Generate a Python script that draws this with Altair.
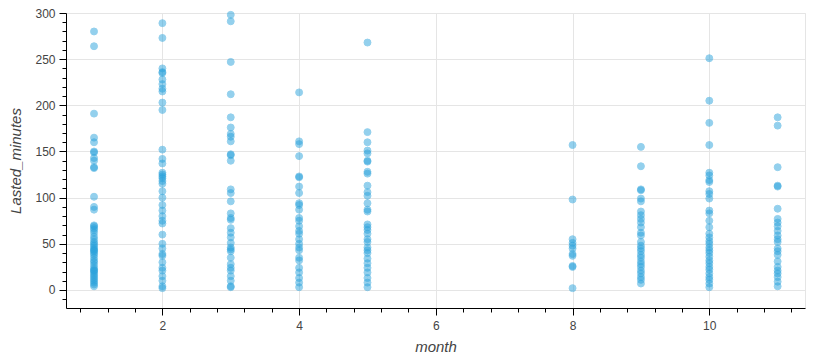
import altair as alt
import pandas as pd

# Lasted_minutes values read per month
m1 = [280, 264, 191, 165, 160, 150, 149, 143, 140, 133, 132, 101, 90, 87,
      70, 69, 67, 65, 62, 58, 55, 52, 50, 48, 46, 44, 43, 42, 40, 38, 35, 32,
      30, 27, 24, 22, 21, 20, 18, 16, 14, 12, 10, 8, 6, 4]
m2 = [289, 273, 240, 236, 235, 228, 223, 218, 215, 203, 195, 152, 142, 137,
      127, 125, 123, 121, 118, 115, 107, 100, 92, 86, 80, 75, 72, 60, 50, 45,
      39, 37, 30, 24, 21, 15, 10, 4, 2]
m3 = [298, 291, 247, 212, 187, 176, 169, 166, 161, 147, 146, 140, 109, 105,
      96, 83, 78, 76, 67, 62, 57, 51, 46, 44, 42, 35, 28, 24, 21, 15, 10, 4, 3]
m4 = [214, 161, 158, 145, 123, 122, 112, 105, 94, 92, 87, 78, 75, 69, 64,
      61, 55, 50, 46, 43, 35, 32, 24, 19, 13, 8, 3]
m5 = [268, 171, 160, 151, 148, 140, 139, 128, 126, 113, 106, 102, 94, 87,
      85, 71, 68, 65, 61, 55, 52, 46, 43, 40, 34, 29, 24, 19, 13, 8, 3]
m8 = [157, 98, 55, 51, 48, 45, 39, 37, 26, 25, 2]
m9 = [155, 134, 109, 108, 99, 96, 85, 81, 77, 73, 68, 62, 59, 52, 48, 45,
      42, 38, 35, 31, 28, 25, 21, 18, 14, 11, 7]
m10 = [251, 205, 181, 157, 127, 124, 119, 117, 107, 104, 99, 86, 83, 75, 68,
       61, 57, 53, 50, 46, 43, 40, 36, 32, 29, 25, 22, 18, 14, 11, 7, 3]
m11 = [187, 178, 133, 113, 112, 88, 77, 73, 69, 64, 59, 55, 52, 45, 42, 38,
       31, 25, 21, 18, 14, 9, 4]

months = [1, 2, 3, 4, 5, 8, 9, 10, 11]
values = [m1, m2, m3, m4, m5, m8, m9, m10, m11]

rows = []
for mo, vals in zip(months, values):
    for v in vals:
        rows.append({"month": mo, "Lasted_minutes": v})
df = pd.DataFrame(rows)

x_ticks = [round(0.8 + 0.4 * k, 1) for k in range(27)]
y_ticks = list(range(-10, 301, 10))

font = "Liberation Sans"

x_axis = alt.Axis(
    values=x_ticks,
    labelExpr="abs(datum.value/2 - round(datum.value/2)) < 0.001 ? format(datum.value, 'd') : ''",
    tickSize={"condition": {"test": "abs(datum.value/2 - round(datum.value/2)) < 0.001", "value": 7}, "value": 4},
    gridOpacity={"condition": {"test": "abs(datum.value/2 - round(datum.value/2)) < 0.001", "value": 1}, "value": 0},
    labelOverlap=False,
    labelPadding=5,
    titlePadding=8,
    title="month",
)
y_axis = alt.Axis(
    values=y_ticks,
    labelExpr="datum.value % 50 === 0 ? format(datum.value, 'd') : ''",
    tickSize={"condition": {"test": "datum.value % 50 === 0", "value": 7}, "value": 4},
    gridOpacity={"condition": {"test": "datum.value % 50 === 0", "value": 1}, "value": 0},
    labelOverlap=False,
    labelPadding=4,
    titlePadding=11,
    title="Lasted_minutes",
)

chart = alt.Chart(df).mark_circle(
    size=48, color="#29a2dc", opacity=0.5, stroke="#29a2dc", strokeWidth=1
).encode(
    x=alt.X("month:Q", scale=alt.Scale(domain=[0.59, 11.4], nice=False, zero=False), axis=x_axis),
    y=alt.Y("Lasted_minutes:Q", scale=alt.Scale(domain=[-19.5, 300], nice=False, zero=False), axis=y_axis),
).properties(
    width=739, height=295,
    autosize=alt.AutoSizeParams(type="none"),
    padding={"left": 58, "top": 5, "right": 20, "bottom": 46},
).configure_axis(
    domainColor="#000000",
    domainWidth=1,
    tickColor="#000000",
    tickWidth=1,
    gridColor="#e5e5e5",
    gridWidth=1,
    labelFont=font,
    labelFontSize=12,
    labelColor="#444444",
    titleFont=font,
    titleFontSize=15,
    titleFontStyle="italic",
    titleFontWeight="normal",
    titleColor="#444444",
).configure_view(
    stroke="#e5e5e5",
    strokeWidth=1,
)

chart.save("out.html", embed_options={"renderer": "svg", "actions": False})
